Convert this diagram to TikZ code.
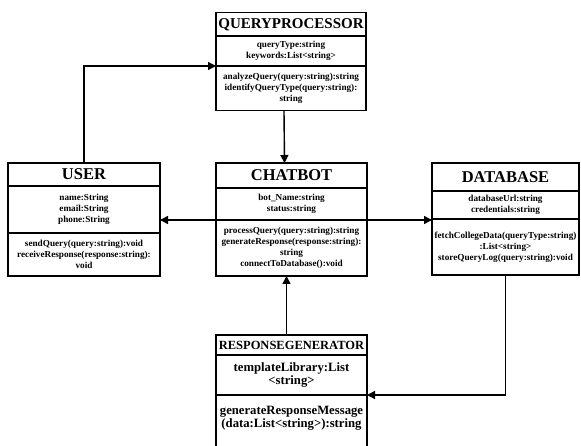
\documentclass[tikz,border=0pt]{standalone}
\usepackage{fontspec}
\setmainfont{Liberation Serif}
\usepackage{tikz}
\usetikzlibrary{arrows.meta, positioning}
\tikzstyle{classhead} = [rectangle, draw=black, line width=1.4pt, outer sep=0pt, inner sep=1pt, align=center, font=\bfseries\fontsize{16.5}{18}\selectfont]
\tikzstyle{classpart} = [rectangle, draw=black, line width=1.4pt, outer sep=0pt, inner sep=1pt, align=center, font=\bfseries\fontsize{9.2}{11}\selectfont]
\tikzstyle{arrow} = [line width=1.4pt, -{Triangle[length=8pt,width=8pt]}]

\begin{document}
\begin{tikzpicture}[x=1pt, y=-1pt]
\clip (0,0) rectangle (581,446);

% query processor
\node[classhead, anchor=north west, minimum width=150, minimum height=23.3,
font=\bfseries\fontsize{15}{16}\selectfont] (qptitle) at (216,12.7) {QUERYPROCESSOR};
\node[classpart, minimum width=150, minimum height=30, below=0pt of qptitle] (qpattr)
{queryType:string\\keywords:List<string>};
\node[classpart, minimum width=150, minimum height=44.7, below=0pt of qpattr] (qpops)
{analyzeQuery(query:string):string\\identifyQueryType(query:string):\\string};

% user
\node[classhead, anchor=north west, minimum width=152, minimum height=23] (usertitle) at (8,163) {USER};
\node[classpart, minimum width=152, minimum height=47, below=0pt of usertitle] (userattr)
{name:String\\email:String\\phone:String};
\node[classpart, minimum width=152, minimum height=43, below=0pt of userattr] (userops)
{sendQuery(query:string):void\\receiveResponse(response:string):\\void};

% chatbot
\node[classhead, anchor=north west, minimum width=151, minimum height=25] (chattitle) at (216,163) {CHATBOT};
\node[classpart, minimum width=151, minimum height=32, below=0pt of chattitle] (chatattr)
{bot\_Name:string\\status:string};
\node[classpart, minimum width=151, minimum height=56, below=0pt of chatattr] (chatops)
{processQuery(query:string):string\\generateResponse(response:string):\\string\\connectToDatabase():void};

% database
\node[classhead, anchor=north west, minimum width=147, minimum height=28] (dbtitle) at (432,163) {DATABASE};
\node[classpart, minimum width=147, minimum height=28, below=0pt of dbtitle] (dbattr)
{databaseUrl:string\\credentials:string};
\node[classpart, minimum width=147, minimum height=56, below=0pt of dbattr] (dbops)
{fetchCollegeData(queryType:string)\\:List<string>\\storeQueryLog(query:string):void};

% response generator
\node[classhead, anchor=north west, minimum width=151, minimum height=20,
font=\bfseries\fontsize{12.5}{14}\selectfont] (rgtitle) at (216,335) {RESPONSEGENERATOR};
\node[classpart, minimum width=151, minimum height=40, below=0pt of rgtitle,
font=\bfseries\fontsize{12.7}{13.5}\selectfont] (rgattr) {templateLibrary:List\\<string>};
\node[classpart, draw=none, minimum width=151, minimum height=46, below=0pt of rgattr,
font=\bfseries\fontsize{12.7}{13.5}\selectfont] (rgops) {generateResponseMessage\\(data:List<string>):string};
\draw[line width=1.4pt] (rgops.north west) -- ++(0,60) (rgops.north east) -- ++(0,60);

% connectors
\draw[arrow] (usertitle.north) |- (qpops.north west);
\draw[arrow] ([xshift=-7pt]qpops.south) -- ([xshift=-7pt]chattitle.north);
\draw[arrow] (chatops.north west) -- (chatops.north west -| userattr.east);
\draw[arrow] (chatops.north east) -- (chatops.north east -| dbops.west);
\draw[arrow] (dbops.south) |- (rgops.north east);
\draw[arrow] ([xshift=-5pt]rgtitle.north) -- ([xshift=-5pt]chatops.south);
\end{tikzpicture}
\end{document}
